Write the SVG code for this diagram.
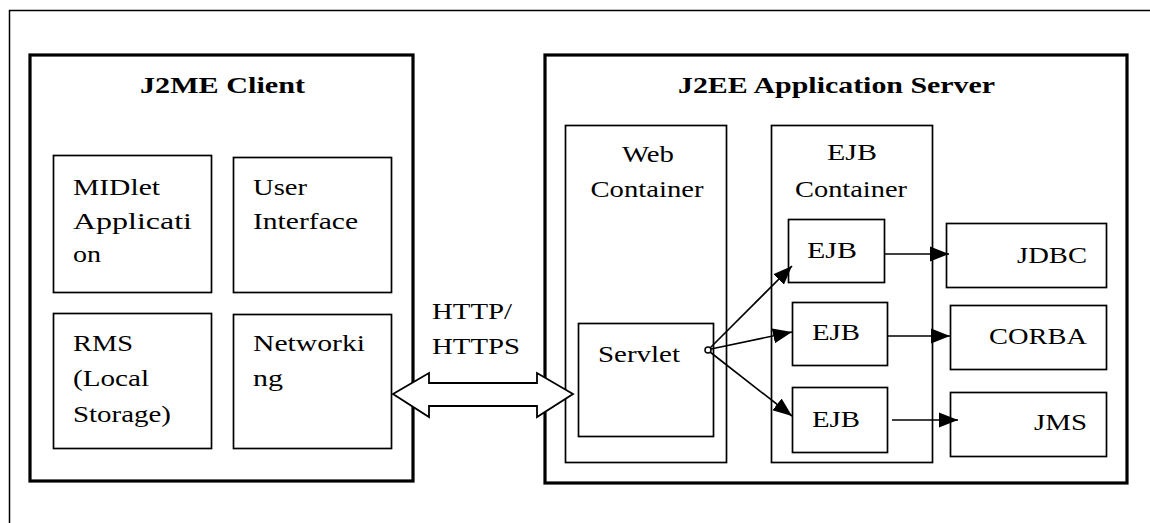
<svg xmlns="http://www.w3.org/2000/svg" width="1150" height="523" viewBox="0 0 1150 523">
<style>
.frame{fill:none;stroke:#000;stroke-width:1.5}
.big{fill:none;stroke:#000;stroke-width:3.2}
.box{fill:none;stroke:#000;stroke-width:1.7}
.t{font-family:"Liberation Serif","Times New Roman",serif;font-size:23px;fill:#000}
.h{font-family:"Liberation Serif","Times New Roman",serif;font-size:24px;font-weight:bold;fill:#000}
.c{fill:none;stroke:#000;stroke-width:1.6}
</style>
<defs>
<marker id="ah" markerWidth="22" markerHeight="18" refX="19" refY="9" orient="auto" markerUnits="userSpaceOnUse">
<path d="M0,1.5 L19,9 L0,16.5 Z" fill="#000"/>
</marker>
</defs>
<rect width="1150" height="523" fill="#fff"/>
<path class="frame" d="M9.5,523 V10.5 H1150"/>

<g id="j2me-client">
<rect class="big" x="30" y="55" width="383" height="426"/>
<text class="h" x="140" y="93" textLength="165" lengthAdjust="spacingAndGlyphs">J2ME Client</text>
</g>
<g id="midlet">
<rect class="box" x="53.5" y="155.5" width="158" height="137"/>
<text class="t" x="73" y="195" textLength="87" lengthAdjust="spacingAndGlyphs">MIDlet</text>
<text class="t" x="73" y="229" textLength="119" lengthAdjust="spacingAndGlyphs">Applicati</text>
<text class="t" x="73" y="262" textLength="28" lengthAdjust="spacingAndGlyphs">on</text>
</g>
<g id="user-interface">
<rect class="box" x="233.5" y="157.5" width="158" height="135"/>
<text class="t" x="253" y="195" textLength="54" lengthAdjust="spacingAndGlyphs">User</text>
<text class="t" x="253" y="229" textLength="105" lengthAdjust="spacingAndGlyphs">Interface</text>
</g>
<g id="rms">
<rect class="box" x="53.5" y="313.5" width="158" height="135"/>
<text class="t" x="73" y="351" textLength="60" lengthAdjust="spacingAndGlyphs">RMS</text>
<text class="t" x="73" y="386" textLength="76" lengthAdjust="spacingAndGlyphs">(Local</text>
<text class="t" x="73" y="422" textLength="98" lengthAdjust="spacingAndGlyphs">Storage)</text>
</g>
<g id="networking">
<rect class="box" x="233.5" y="314.5" width="158" height="134"/>
<text class="t" x="253" y="351" textLength="112" lengthAdjust="spacingAndGlyphs">Networki</text>
<text class="t" x="253" y="386" textLength="30" lengthAdjust="spacingAndGlyphs">ng</text>
</g>

<g id="j2ee-server">
<rect class="big" x="545" y="55" width="582" height="428"/>
<text class="h" x="678" y="93" textLength="317" lengthAdjust="spacingAndGlyphs">J2EE Application Server</text>
</g>
<g id="web-container">
<rect class="box" x="565.5" y="125.5" width="161" height="337"/>
<text class="t" x="648" y="162" text-anchor="middle" textLength="52" lengthAdjust="spacingAndGlyphs">Web</text>
<text class="t" x="647" y="197" text-anchor="middle" textLength="113" lengthAdjust="spacingAndGlyphs">Container</text>
</g>
<g id="servlet">
<rect class="box" x="578.5" y="323.5" width="135" height="113"/>
<text class="t" x="598" y="362" textLength="82" lengthAdjust="spacingAndGlyphs">Servlet</text>
</g>
<g id="ejb-container">
<rect class="box" x="771.5" y="125.5" width="161" height="337"/>
<text class="t" x="852" y="160" text-anchor="middle" textLength="50" lengthAdjust="spacingAndGlyphs">EJB</text>
<text class="t" x="851" y="197" text-anchor="middle" textLength="112" lengthAdjust="spacingAndGlyphs">Container</text>
</g>
<g id="ejb1">
<rect class="box" x="788.5" y="219.5" width="96" height="63"/>
<text class="t" x="807" y="258" textLength="50" lengthAdjust="spacingAndGlyphs">EJB</text>
</g>
<g id="ejb2">
<rect class="box" x="792.5" y="302.5" width="95" height="63"/>
<text class="t" x="812" y="340" textLength="48" lengthAdjust="spacingAndGlyphs">EJB</text>
</g>
<g id="ejb3">
<rect class="box" x="792.5" y="387.5" width="95" height="65"/>
<text class="t" x="812" y="427" textLength="48" lengthAdjust="spacingAndGlyphs">EJB</text>
</g>
<g id="jdbc">
<rect class="box" x="946.5" y="223.5" width="160" height="64"/>
<text class="t" x="1017" y="263" textLength="70" lengthAdjust="spacingAndGlyphs">JDBC</text>
</g>
<g id="corba">
<rect class="box" x="950.5" y="305.5" width="156" height="64"/>
<text class="t" x="989" y="344" textLength="98" lengthAdjust="spacingAndGlyphs">CORBA</text>
</g>
<g id="jms">
<rect class="box" x="950.5" y="392.5" width="156" height="64"/>
<text class="t" x="1034" y="430" textLength="53" lengthAdjust="spacingAndGlyphs">JMS</text>
</g>

<g id="connectors">
<text class="t" x="432" y="319" textLength="80" lengthAdjust="spacingAndGlyphs">HTTP/</text>
<text class="t" x="432" y="354" textLength="88" lengthAdjust="spacingAndGlyphs">HTTPS</text>
<path d="M393,394 L429,373 L429,383 L537,383 L537,373 L573,394 L537,417 L537,406 L429,406 L429,417 Z" fill="#fff" stroke="#000" stroke-width="1.8" stroke-linejoin="miter"/>
<circle cx="708" cy="350" r="3" fill="#fff" stroke="#000" stroke-width="1.5"/>
<line class="c" x1="710" y1="348" x2="792" y2="266" marker-end="url(#ah)"/>
<line class="c" x1="711" y1="349" x2="792" y2="332" marker-end="url(#ah)"/>
<line class="c" x1="710" y1="352" x2="792" y2="416" marker-end="url(#ah)"/>
<line class="c" x1="884" y1="254" x2="949" y2="254" marker-end="url(#ah)"/>
<line class="c" x1="887" y1="336" x2="950" y2="336" marker-end="url(#ah)"/>
<line class="c" x1="892" y1="420" x2="958" y2="420" marker-end="url(#ah)"/>
</g>
</svg>
